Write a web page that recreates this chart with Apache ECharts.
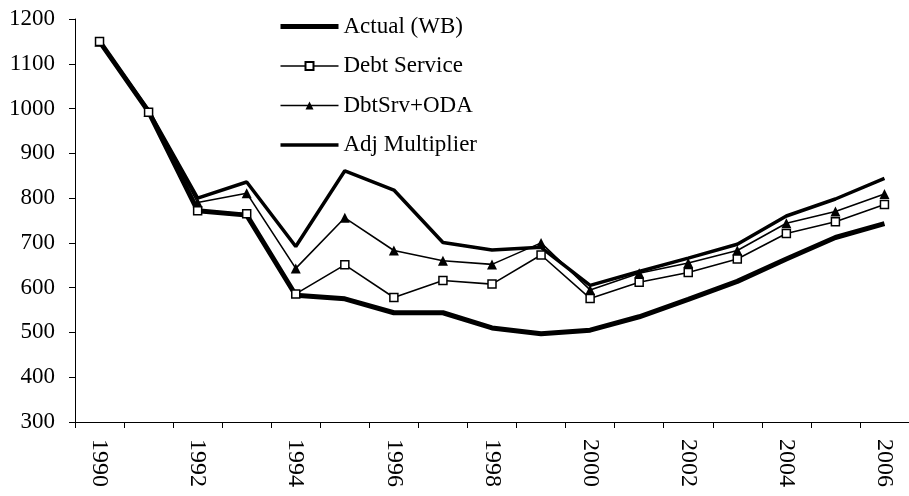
<!DOCTYPE html>
<html>
<head>
<meta charset="utf-8">
<script src="https://cdn.jsdelivr.net/npm/echarts@6/dist/echarts.min.js"></script>
<style>
  html, body { margin: 0; padding: 0; background: #ffffff; overflow: hidden; }
  #chart { width: 909px; height: 496px; }
</style>
</head>
<body>
<div id="chart"></div>
<script>
// Years on the category axis
const years = ['1990', '1991', '1992', '1993', '1994', '1995', '1996', '1997', '1998',
  '1999', '2000', '2001', '2002', '2003', '2004', '2005', '2006'];

// Series values
const actualWB = [1150, 993, 772, 762, 583, 575, 544, 544, 510, 497, 505, 535, 574, 614, 664, 712, 743];
const debtService = [1150, 992, 772, 765, 586, 651, 578, 616, 608, 673, 576, 612, 634, 664, 721, 747, 786];
const dbtSrvOda = [1149, 993, 790, 811, 643, 756, 683, 660, 652, 700, 595, 632, 655, 683, 744, 770, 809];
const adjMultiplier = [1150, 995, 800, 836, 692, 861, 818, 701, 684, 690, 605, 636, 666, 697, 760, 798, 844];

const FONT = '"Liberation Serif", "Times New Roman", serif';
const INK = '#000000';
const NO_FILL = 'rgba(0,0,0,0)';

const chart = echarts.init(document.getElementById('chart'), null, { renderer: 'canvas' });

chart.setOption({
  animation: false,
  backgroundColor: '#ffffff',
  textStyle: { fontFamily: FONT, color: INK },
  grid: { left: 75, right: -8, top: 19, bottom: 74, containLabel: false },
  legend: {
    orient: 'vertical',
    left: 278,
    top: 15,
    padding: 0,
    itemWidth: 58,
    itemHeight: 10,
    itemGap: 16.5,
    lineStyle: { width: 'inherit' },
    textStyle: { fontFamily: FONT, fontSize: 23, color: INK },
    data: ['Actual (WB)', 'Debt Service', 'DbtSrv+ODA', 'Adj Multiplier']
  },
  xAxis: {
    type: 'category',
    data: years,
    boundaryGap: true,
    axisLine: { lineStyle: { color: INK, width: 1 } },
    axisTick: { show: true, interval: 0, length: 6, inside: false, lineStyle: { color: INK } },
    axisLabel: {
      interval: 1,
      rotate: -90,
      margin: 17,
      fontFamily: FONT,
      fontSize: 24,
      color: INK
    },
    splitLine: { show: false }
  },
  yAxis: {
    type: 'value',
    min: 300,
    max: 1200,
    interval: 100,
    axisLine: { show: true, lineStyle: { color: INK, width: 1 } },
    axisTick: { show: true, length: 6, inside: false, lineStyle: { color: INK } },
    axisLabel: {
      margin: 20,
      fontFamily: FONT,
      fontSize: 23,
      color: INK,
      formatter: (v) => String(v)
    },
    splitLine: { show: false }
  },
  series: [
    {
      name: 'Actual (WB)',
      type: 'line',
      data: actualWB,
      symbol: 'none',
      lineStyle: { color: INK, width: 5 },
      itemStyle: { color: NO_FILL, borderWidth: 0 },
      z: 4
    },
    {
      name: 'Debt Service',
      type: 'line',
      data: debtService,
      symbol: 'rect',
      symbolSize: 8,
      showAllSymbol: true,
      lineStyle: { color: INK, width: 1.6 },
      itemStyle: { color: '#ffffff', borderColor: INK, borderWidth: 1.5 },
      z: 5
    },
    {
      name: 'DbtSrv+ODA',
      type: 'line',
      data: dbtSrvOda,
      symbol: 'triangle',
      symbolSize: 10,
      showAllSymbol: true,
      lineStyle: { color: INK, width: 1.6 },
      itemStyle: { color: INK, borderColor: INK, borderWidth: 0 },
      z: 3
    },
    {
      name: 'Adj Multiplier',
      type: 'line',
      data: adjMultiplier,
      symbol: 'none',
      lineStyle: { color: INK, width: 3.5 },
      itemStyle: { color: NO_FILL, borderWidth: 0 },
      z: 2
    }
  ]
});
</script>
</body>
</html>
